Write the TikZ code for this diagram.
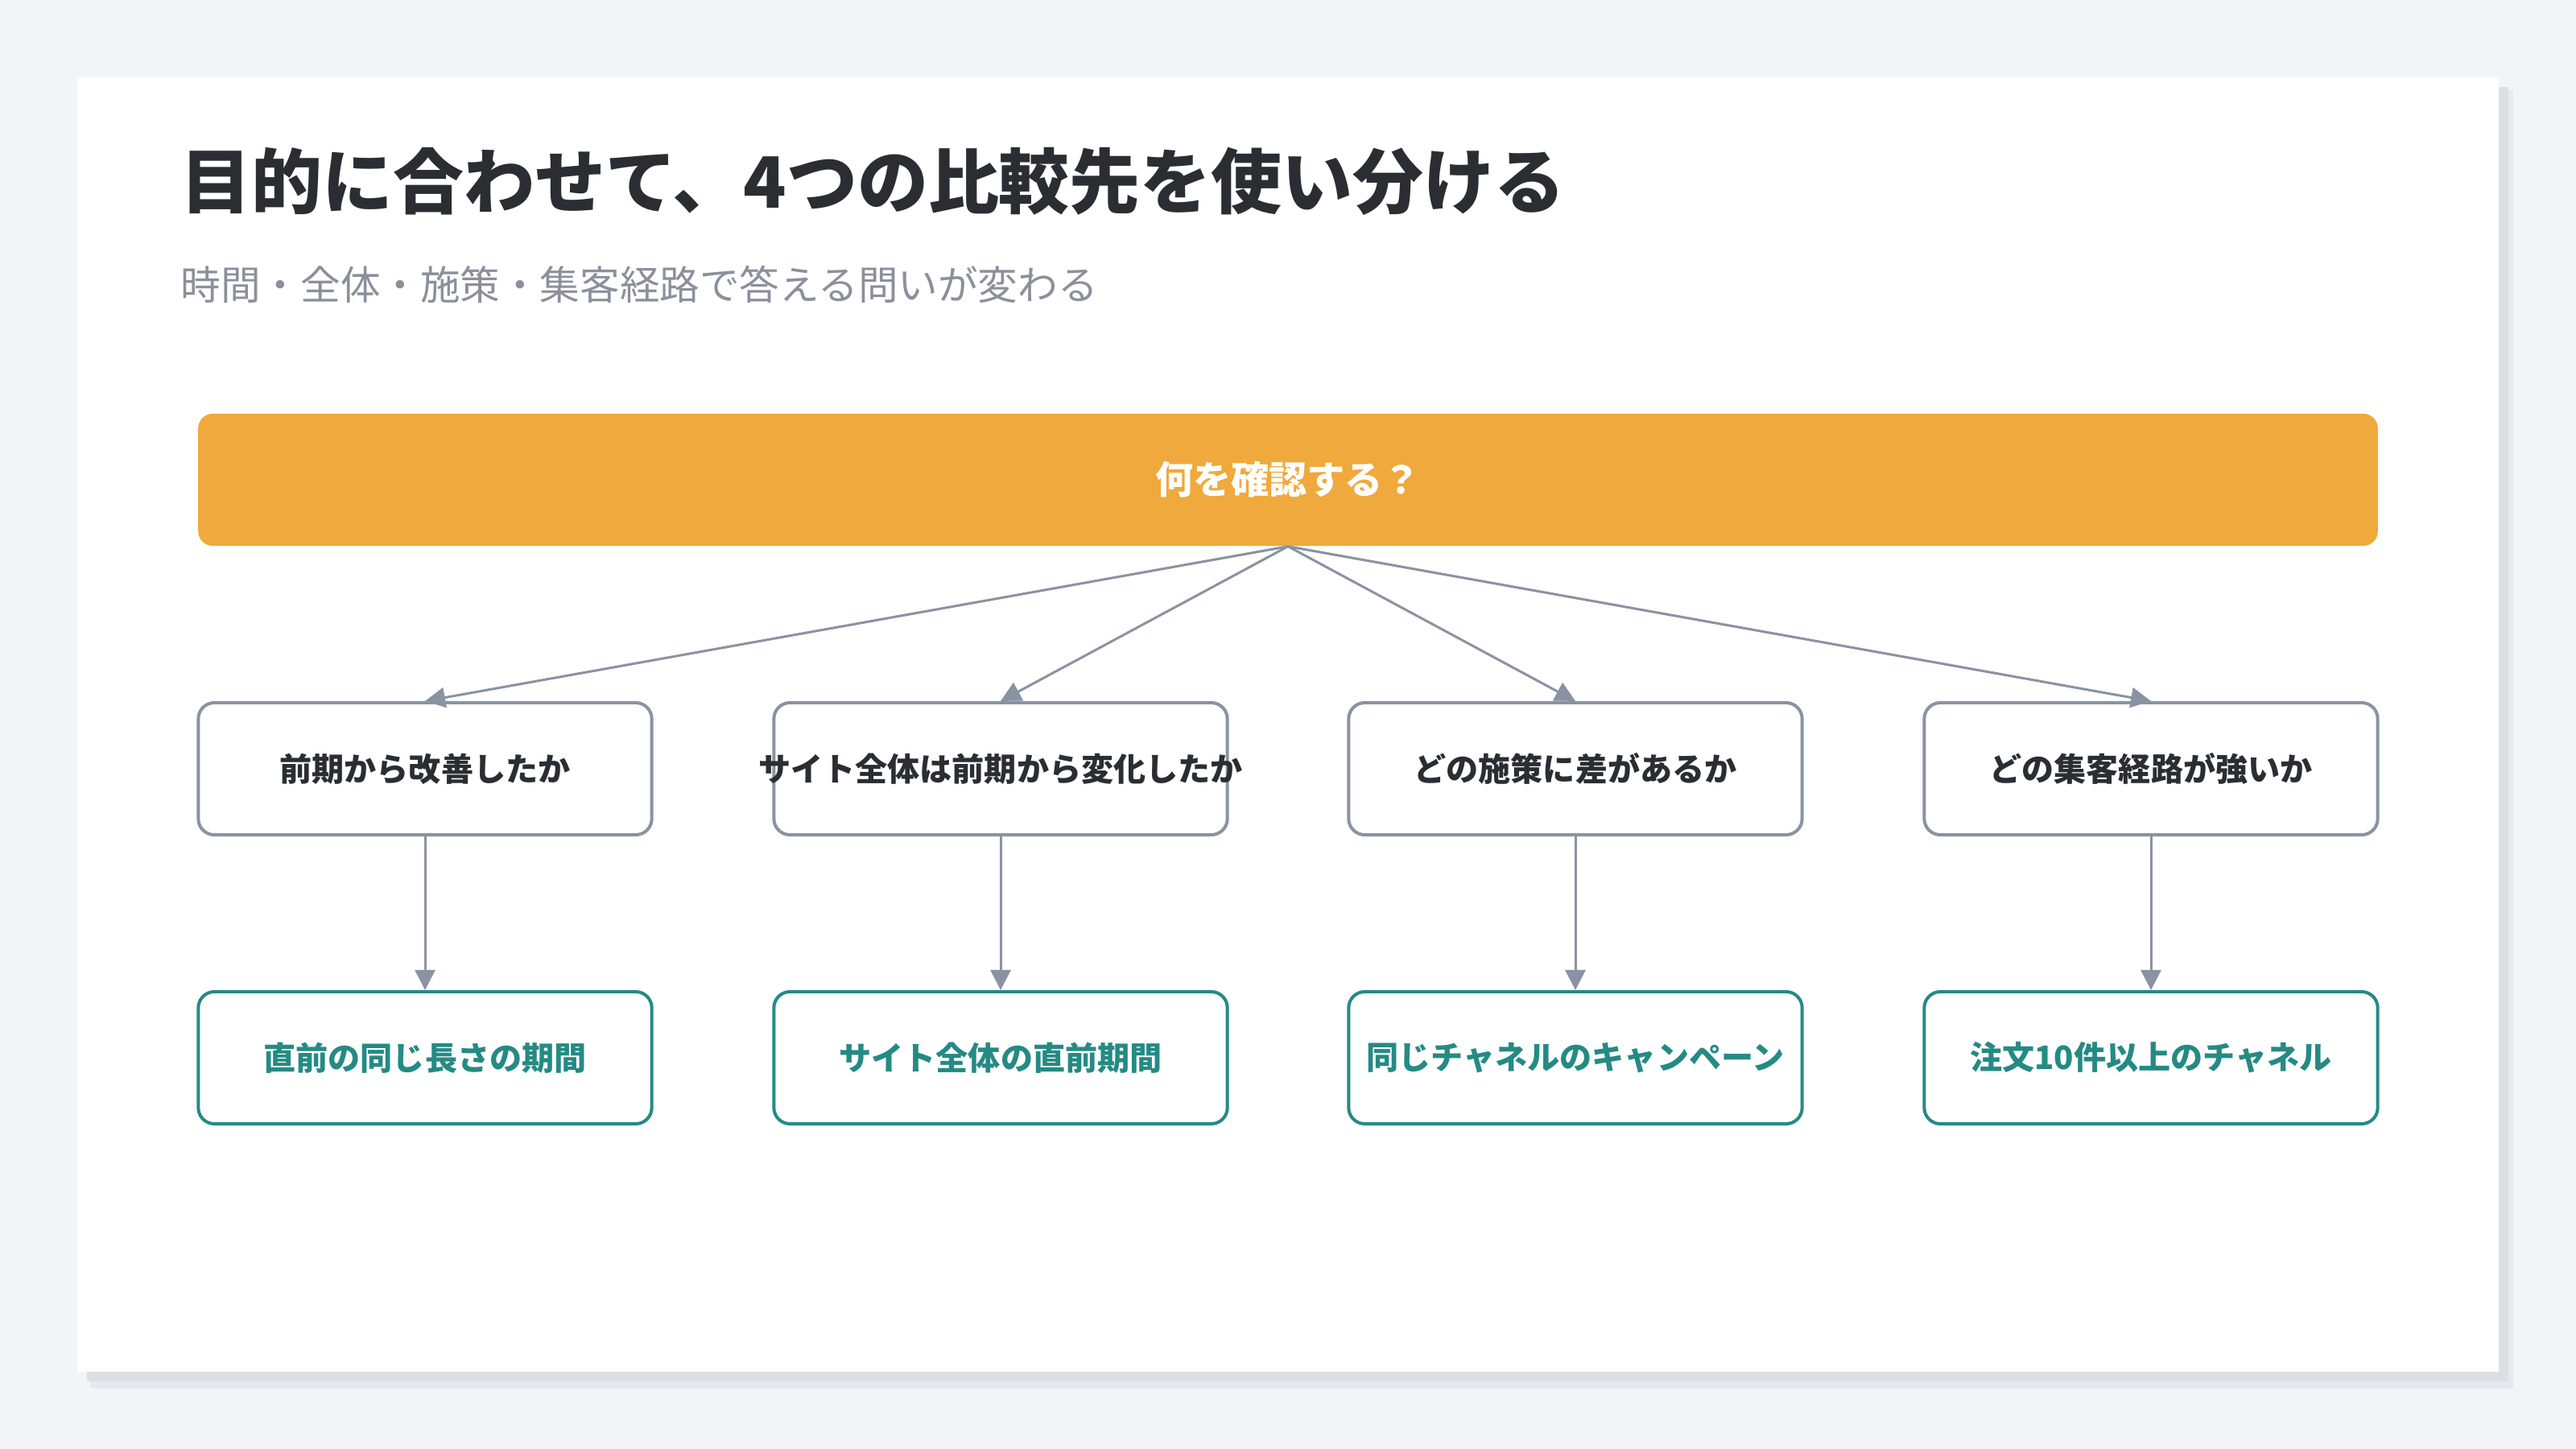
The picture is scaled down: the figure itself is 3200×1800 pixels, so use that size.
\documentclass[tikz,border=0pt]{standalone}
\usepackage{fontspec}
\setmainfont{Noto Sans CJK JP}
\usetikzlibrary{arrows.meta}
\definecolor{bgc}{HTML}{F3F4F8}
\definecolor{shadowA}{HTML}{E8E9EE}
\definecolor{shadowB}{HTML}{DDDFE5}
\definecolor{titlec}{HTML}{2B2D33}
\definecolor{subc}{HTML}{8A909B}
\definecolor{orangec}{HTML}{F0A93C}
\definecolor{grayc}{HTML}{8A93A2}
\definecolor{tealc}{HTML}{258A84}
\tikzset{
  qbox/.style={draw=grayc, line width=0.4mm, fill=white, rounded corners=2mm,
    minimum width=56.3mm, minimum height=16.4mm, inner sep=0pt,
    font=\fontsize{11.4pt}{13pt}\selectfont\bfseries, text=titlec},
  abox/.style={draw=tealc, line width=0.4mm, fill=white, rounded corners=2mm,
    minimum width=56.3mm, minimum height=16.4mm, inner sep=0pt,
    font=\fontsize{11.4pt}{13pt}\selectfont\bfseries, text=tealc},
  hubbox/.style={fill=orangec, rounded corners=1.8mm, minimum width=270.6mm,
    minimum height=16.4mm, inner sep=0pt, text=white,
    font=\fontsize{13.4pt}{15pt}\selectfont\bfseries},
  conn/.style={draw=grayc, line width=0.3mm, -{Triangle[length=2.5mm,width=2.5mm]}},
}
\begin{document}
\begin{tikzpicture}[x=0.01cm, y=-0.01cm]
\useasboundingbox (0,0) rectangle (3200,1800);
\fill[bgc] (0,0) rectangle (3200,1800);
\fill[shadowA] (112,112) rectangle (3122,1725);
\fill[shadowB] (108,108) rectangle (3116,1716);
\fill[white] (96,96) rectangle (3104,1704);
\node[anchor=west, inner sep=0pt, text=titlec, font=\fontsize{25pt}{30pt}\selectfont\bfseries] (title) at (224,225) {目的に合わせて、4つの比較先を使い分ける};
\node[anchor=west, inner sep=0pt, text=subc, font=\fontsize{14.1pt}{17pt}\selectfont] (sub) at (224,353) {時間・全体・施策・集客経路で答える問いが変わる};
\node[hubbox] (hub) at (1600,596) {何を確認する？};
\foreach \n/\x/\q/\a in {1/528/前期から改善したか/直前の同じ長さの期間,
  2/1243/サイト全体は前期から変化したか/サイト全体の直前期間,
  3/1957/どの施策に差があるか/同じチャネルのキャンペーン,
  4/2672/どの集客経路が強いか/注文10件以上のチャネル}{
  \node[qbox] (q\n) at (\x,955) {\makebox[0pt][c]{\q}};
  \node[abox] (a\n) at (\x,1314) {\makebox[0pt][c]{\a}};
  \draw[conn] (hub.south) -- (q\n.north);
  \draw[conn] (q\n.south) -- (a\n.north);
}
\end{tikzpicture}
\end{document}
